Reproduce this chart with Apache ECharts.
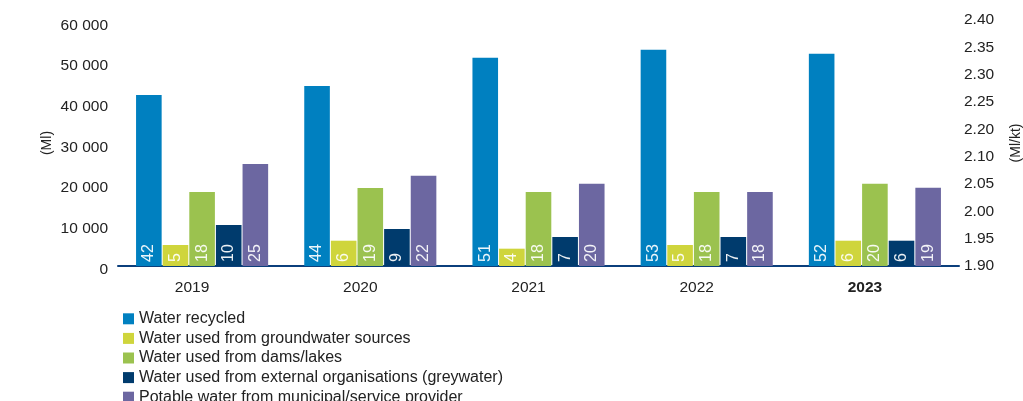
<!DOCTYPE html>
<html><head><meta charset="utf-8">
<script src="https://cdn.jsdelivr.net/npm/echarts@6/dist/echarts.min.js"></script>
<style>html,body{margin:0;padding:0;background:#fff}#c{width:1023px;height:401px}</style>
</head><body><div id="c"></div>
<script>
const years = ['2019','2020','2021','2022','2023'];
const seriesNames = ['Water recycled','Water used from groundwater sources','Water used from dams/lakes','Water used from external organisations (greywater)','Potable water from municipal/service provider'];
const recycled    = [42050, 44270, 51230, 53200, 52210];
const groundwater = [5160, 6220, 4260, 5160, 6220];
const dams        = [18200, 19180, 18200, 18200, 20250];
const external    = [10080, 9100, 7130, 7130, 6220];
const potable     = [25080, 22210, 20250, 18200, 19250];
const pctRecycled    = [42, 44, 51, 53, 52];
const pctGroundwater = [5, 6, 4, 5, 6];
const pctDams        = [18, 19, 18, 18, 20];
const pctExternal    = [10, 9, 7, 7, 6];
const pctPotable     = [25, 22, 20, 18, 19];
const leftTicks = [0, 10000, 20000, 30000, 40000, 50000, 60000];
const rightTickLabels = ['1.90','1.95','2.00','2.05','2.10','2.20','2.25','2.30','2.35','2.40'];

const colors = ['#0080c0','#cfd53c','#9bc24f','#003b6d','#6c67a1'];
const values = [recycled, groundwater, dams, external, potable];
const pcts = [pctRecycled, pctGroundwater, pctDams, pctExternal, pctPotable];
const font = '"Liberation Sans", Arial, Helvetica, sans-serif';

const chart = echarts.init(document.getElementById('c'));
chart.setOption({
  animation: false,
  color: colors,
  textStyle: { fontFamily: font },
  grid: { left: 118, right: 64, top: 20, bottom: 135, containLabel: false, outerBoundsMode: 'none' },
  legend: {
    orient: 'vertical', left: 118, top: 304, height: 200,
    icon: 'rect', itemWidth: 11, itemHeight: 11, itemGap: 0,
    textStyle: { fontSize: 16, color: '#222', lineHeight: 19.6, fontFamily: font },
    data: seriesNames
  },
  xAxis: {
    type: 'category', data: years,
    axisLine: { lineStyle: { color: '#0b3f7c', width: 2 } },
    axisTick: { show: false },
    axisLabel: {
      fontSize: 15.5, color: '#222', margin: 14, padding: [0, 20, 0, 0],
      formatter: v => v === '2023' ? '{b|' + v + '}' : v,
      rich: { b: { fontWeight: 'bold', fontSize: 15.5, color: '#222', fontFamily: font } }
    }
  },
  yAxis: [
    {
      type: 'value', min: 0, max: 60500, interval: 10000,
      name: '(Ml)', nameLocation: 'middle', nameGap: 64, nameRotate: 90, nameMoveOverlap: false,
      nameTextStyle: { fontSize: 14, color: '#222' },
      axisLine: { show: false }, axisTick: { show: false }, splitLine: { show: false },
      axisLabel: {
        fontSize: 15.5, color: '#222', margin: 10,
        formatter: v => leftTicks.indexOf(v) >= 0 ? '{a|' + String(v).replace(/\B(?=(\d{3})+(?!\d))/g, ' ') + '}' : '',
        rich: { a: { fontSize: 15.5, color: '#222', fontFamily: font, padding: [7, 0, 0, 0] } }
      }
    },
    {
      type: 'value', min: 0, max: rightTickLabels.length - 1, interval: 1, position: 'right',
      name: '(Ml/kt)', nameLocation: 'middle', nameGap: 50, nameRotate: 90, nameMoveOverlap: false,
      nameTextStyle: { fontSize: 14, color: '#222' },
      axisLine: { show: false }, axisTick: { show: false }, splitLine: { show: false },
      axisLabel: { fontSize: 15.5, color: '#222', margin: 5, formatter: v => rightTickLabels[v] || '' }
    }
  ],
  series: seriesNames.map((n, i) => ({
    name: n, type: 'bar', yAxisIndex: 0,
    barWidth: 25.6, barGap: '4%',
    data: values[i].map((v, j) => ({ value: v, pct: pcts[i][j] })),
    label: {
      show: true, position: 'insideBottom', rotate: 90, distance: 4,
      align: 'left', verticalAlign: 'middle',
      color: 'rgba(255,255,255,0.92)', fontSize: 16, fontFamily: font,
      formatter: p => String(pcts[i][p.dataIndex])
    }
  }))
});
</script></body></html>
